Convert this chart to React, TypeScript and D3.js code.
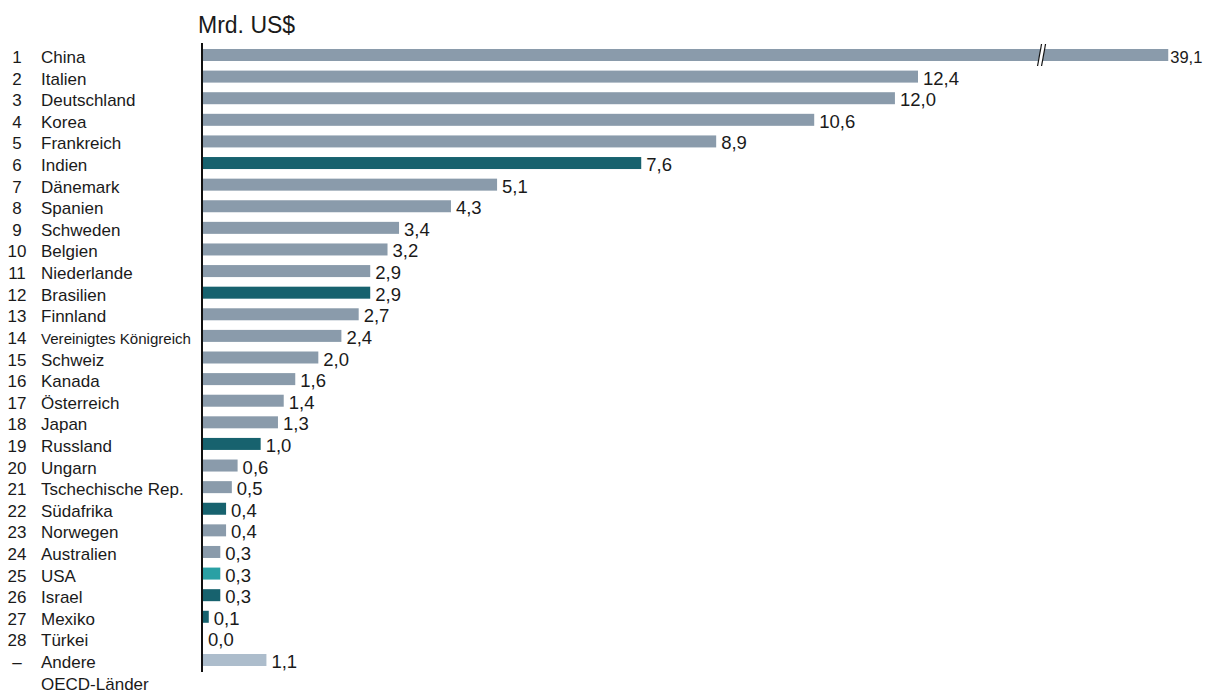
import React from "react";
import * as d3 from "d3";

const ranks = ["1","2","3","4","5","6","7","8","9","10","11","12","13","14","15","16","17","18","19","20","21","22","23","24","25","26","27","28","–"];
const countries = ["China","Italien","Deutschland","Korea","Frankreich","Indien","Dänemark","Spanien","Schweden","Belgien","Niederlande","Brasilien","Finnland","Vereinigtes Königreich","Schweiz","Kanada","Österreich","Japan","Russland","Ungarn","Tschechische Rep.","Südafrika","Norwegen","Australien","USA","Israel","Mexiko","Türkei","Andere|OECD-Länder"];
const values = [39.1,12.4,12.0,10.6,8.9,7.6,5.1,4.3,3.4,3.2,2.9,2.9,2.7,2.4,2.0,1.6,1.4,1.3,1.0,0.6,0.5,0.4,0.4,0.3,0.3,0.3,0.1,0.0,1.1];
// group: o = OECD, p = partner, u = USA, a = other OECD
const groups = ["o","o","o","o","o","p","o","o","o","o","o","p","o","o","o","o","o","o","p","o","o","p","o","o","u","p","p","o","a"];
const colors: Record<string,string> = { o: "#8a9bab", p: "#17626e", u: "#2aa0a4", a: "#adbdcc" };
const unitLabel = "Mrd. US$";
const axisMaxValue = 12.4;
const breakDisplayValue = 16.74;
const breakMarkValue = 14.56;

export default function App() {
  const W = 1213, H = 693;
  const x = d3.scaleLinear().domain([0, axisMaxValue]).range([203, 918]);
  const y = d3.scalePoint<string>().domain(countries).range([55, 660]);
  const barH = 12;
  const font = "'Liberation Sans', Arial, sans-serif";
  const fmt = (v: number) => v.toFixed(1).replace(".", ",");
  const ink = "#1a1a1a";
  return (
    <svg width={W} height={H} style={{ position: "absolute", left: 0, top: 0, background: "#fff" }}>
      <text x={198} y={33} fontFamily={font} fontSize={23} fill={ink}>{unitLabel}</text>
      {countries.map((c, i) => {
        const cy = y(c)!;
        const v = values[i];
        const broken = v > axisMaxValue;
        const disp = broken ? breakDisplayValue : v;
        const x1 = x(disp);
        const lines = c.split("|");
        const isVK = c.length > 18;
        const bx = x(breakMarkValue);
        return (
          <g key={c}>
            <text x={17} y={cy + 8} textAnchor="middle" fontFamily={font} fontSize={17} fill={ink}>{ranks[i]}</text>
            {lines.map((l, j) => (
              <text key={j} x={41} y={cy + 8 + j * 21.6} fontFamily={font} fontSize={isVK ? 15 : 17} fill={ink}
                {...(isVK ? { textLength: 150, lengthAdjust: "spacingAndGlyphs" } : {})}>{l}</text>
            ))}
            {v > 0 && (
              <rect x={x(0)} y={cy - barH / 2} width={x1 - x(0)} height={barH} fill={colors[groups[i]]} />
            )}
            {broken && (
              <g>
                <polygon points={`${bx - 5},${cy + 11} ${bx - 1},${cy - 11} ${bx + 3},${cy - 11} ${bx - 1},${cy + 11}`} fill="#fff" />
                <line x1={bx - 5} y1={cy + 11} x2={bx - 1} y2={cy - 11} stroke="#111" strokeWidth={1.2} />
                <line x1={bx - 1} y1={cy + 11} x2={bx + 3} y2={cy - 11} stroke="#111" strokeWidth={1.2} />
              </g>
            )}
            <text x={x1 + (broken ? 2 : 5)} y={cy + (broken ? 7.5 : 8)} fontFamily={font} fontSize={broken ? 16.5 : 18.5} fill={ink}>{fmt(v)}</text>
          </g>
        );
      })}
      <line x1={202} x2={202} y1={43} y2={672} stroke="#111" strokeWidth={2} />
    </svg>
  );
}
